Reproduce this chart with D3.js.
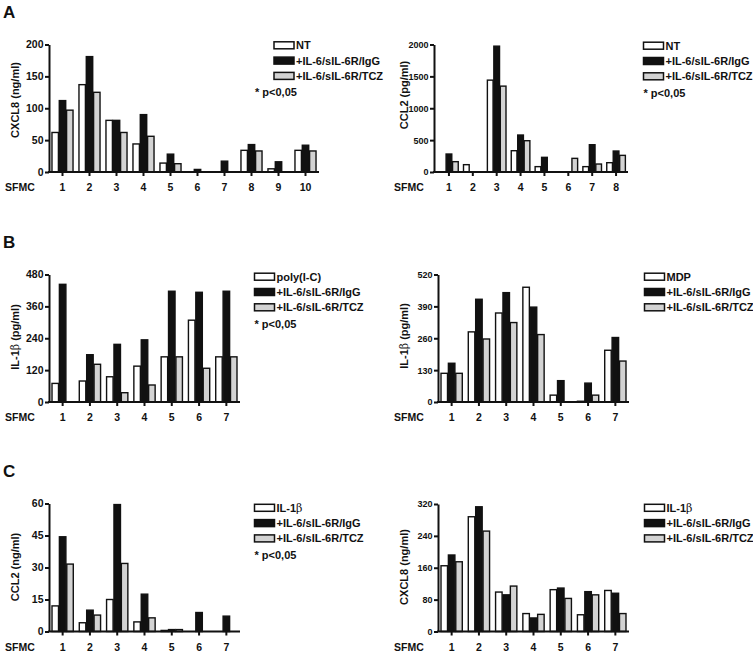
<!DOCTYPE html>
<html>
<head>
<meta charset="utf-8">
<script src="https://cdn.jsdelivr.net/npm/d3@7"></script>
<style>
html,body{margin:0;padding:0;background:#fff;}
svg text{font-family:Arial,Helvetica,"Liberation Sans",sans-serif;font-weight:bold;fill:#111;}
</style>
</head>
<body>
<svg id="chart" width="753" height="653"></svg>
<script>
// ---- data ----
const seriesA = ["NT", "+IL-6/sIL-6R/IgG", "+IL-6/sIL-6R/TCZ"];
const seriesBL = ["poly(I-C)", "+IL-6/sIL-6R/IgG", "+IL-6/sIL-6R/TCZ"];
const seriesBR = ["MDP", "+IL-6/sIL-6R/IgG", "+IL-6/sIL-6R/TCZ"];
const seriesC = ["IL-1β", "+IL-6/sIL-6R/IgG", "+IL-6/sIL-6R/TCZ"];

const groups10 = ["1","2","3","4","5","6","7","8","9","10"];
const groups8 = ["1","2","3","4","5","6","7","8"];
const groups7 = ["1","2","3","4","5","6","7"];

const aLeftNT  = [62, 137, 81, 44, 14, 0, 0, 34, 5, 34];
const aLeftIgG = [112, 181, 81, 90, 28, 4, 17, 43, 16, 42];
const aLeftTCZ = [97, 125, 62, 56, 13, 0, 0, 33, 0, 33];
const aLeftTicks = [0, 50, 100, 150, 200];

const aRightNT  = [0, 115, 1441, 334, 84, 0, 84, 146];
const aRightIgG = [282, 0, 1974, 580, 230, 0, 428, 329];
const aRightTCZ = [162, 0, 1347, 491, 0, 214, 125, 261];
const aRightTicks = [0, 500, 1000, 1500, 2000];

const bLeftPoly = [70, 79, 95, 135, 170, 308, 170];
const bLeftIgG  = [443, 178, 217, 234, 417, 413, 417];
const bLeftTCZ  = [0, 142, 35, 64, 170, 127, 170];
const bLeftTicks = [0, 120, 240, 360, 480];

const bRightMDP = [117, 286, 363, 468, 28, 3, 211];
const bRightIgG = [158, 419, 446, 387, 87, 77, 263];
const bRightTCZ = [117, 257, 324, 275, 0, 28, 167];
const bRightTicks = [0, 130, 260, 390, 520];

const cLeftIL1  = [12, 4.1, 15, 4.5, 0.5, 0, 0];
const cLeftIgG  = [44.4, 10, 59.5, 17.5, 0.9, 8.9, 7.2];
const cLeftTCZ  = [31.6, 7.7, 31.9, 6.4, 0.9, 0, 0];
const cLeftTicks = [0, 15, 30, 45, 60];

const cRightIL1 = [165, 288, 99, 45, 105, 42, 103];
const cRightIgG = [192, 313, 92, 34, 109, 100, 96];
const cRightTCZ = [175, 252, 114, 43, 83, 92, 45];
const cRightTicks = [0, 80, 160, 240, 320];

const pNote = "* p<0,05";
const xTitle = "SFMC";

// ---- layout ----
const FONT = "Arial,Helvetica,'Liberation Sans',sans-serif";
const fills = ["#ffffff", "#111111", "#d3d3d3"];
const svg = d3.select("#chart");

const panels = [
  {groups: groups10, values: [aLeftNT, aLeftIgG, aLeftTCZ], ticks: aLeftTicks, series: seriesA, tickFs: 10.5,
   ylab: ["CXCL8 (ng/ml)"], axisX: 49, xr: [49, 319], yt: 44.5, yb: 172, labX: 19, labY: 100,
   legX: 274, legY: 45.3, pX: 255, showP: true, sfmcX: 5},
  {groups: groups8, values: [aRightNT, aRightIgG, aRightTCZ], ticks: aRightTicks, series: seriesA, tickFs: 9,
   ylab: ["CCL2 (pg/ml)"], axisX: 434, xr: [437, 628], yt: 44.5, yb: 172, labX: 408, labY: 95,
   legX: 643.5, legY: 45.7, pX: 643.5, showP: true, sfmcX: 394},
  {groups: groups7, values: [bLeftPoly, bLeftIgG, bLeftTCZ], ticks: bLeftTicks, series: seriesBL, tickFs: 10.5,
   ylab: ["IL-1", "β", " (pg/ml)"], axisX: 49, xr: [49, 240], yt: 274.5, yb: 402, labX: 19, labY: 337,
   legX: 254.5, legY: 276.7, pX: 254.5, showP: true, sfmcX: 5},
  {groups: groups7, values: [bRightMDP, bRightIgG, bRightTCZ], ticks: bRightTicks, series: seriesBR, tickFs: 9,
   ylab: ["IL-1", "β", " (pg/ml)"], axisX: 438, xr: [438, 629], yt: 274.5, yb: 402, labX: 408, labY: 336,
   legX: 644.5, legY: 276.7, pX: 644.5, showP: false, sfmcX: 394},
  {groups: groups7, values: [cLeftIL1, cLeftIgG, cLeftTCZ], ticks: cLeftTicks, series: seriesC, tickFs: 10.5,
   ylab: ["CCL2 (ng/ml)"], axisX: 49, xr: [49, 240], yt: 503.5, yb: 631.5, labX: 19, labY: 567,
   legX: 254.5, legY: 507.8, pX: 254.5, showP: true, sfmcX: 5},
  {groups: groups7, values: [cRightIL1, cRightIgG, cRightTCZ], ticks: cRightTicks, series: seriesC, tickFs: 9,
   ylab: ["CXCL8 (ng/ml)"], axisX: 438, xr: [438, 629], yt: 504, yb: 631.5, labX: 408, labY: 567,
   legX: 644.5, legY: 507.8, pX: 644.5, showP: false, sfmcX: 394}
];

function addLabelText(sel, parts) {
  parts.forEach(p => {
    const t = sel.append("tspan").text(p);
    if (p === "β") t.style("font-family", "'DejaVu Serif','Liberation Serif',serif").style("font-weight", "normal");
  });
}

panels.forEach(P => {
  const g = svg.append("g");
  const x = d3.scaleBand().domain(P.groups).range(P.xr).paddingInner(0.22).paddingOuter(0.11);
  const xs = d3.scaleBand().domain([0, 1, 2]).range([0, x.bandwidth()]).paddingInner(0.12);
  const ymax = P.ticks[P.ticks.length - 1];
  const y = d3.scaleLinear().domain([0, ymax]).range([P.yb, P.yt]);

  // bars
  P.values.forEach((vals, si) => {
    g.append("g").selectAll("rect").data(vals).join("rect")
      .attr("x", (d, i) => x(P.groups[i]) + xs(si))
      .attr("width", xs.bandwidth())
      .attr("y", d => y(d))
      .attr("height", d => P.yb - y(d))
      .attr("fill", fills[si])
      .attr("stroke", "#111")
      .attr("stroke-width", 1.4);
  });

  // y axis
  const ya = g.append("g").attr("transform", `translate(${P.axisX},0)`)
    .call(d3.axisLeft(y).tickValues(P.ticks).tickFormat(d3.format("d")).tickSize(4).tickSizeOuter(0).tickPadding(1.5));
  ya.select(".domain").attr("stroke", "#111").attr("stroke-width", 2);
  ya.selectAll(".tick line").attr("stroke", "#111").attr("stroke-width", 2);
  ya.selectAll(".tick text").style("font-size", P.tickFs + "px").style("font-family", FONT).style("font-weight", "bold").attr("fill", "#111");

  // x axis
  g.append("line").attr("x1", P.axisX - 1).attr("x2", P.xr[1]).attr("y1", P.yb).attr("y2", P.yb)
    .attr("stroke", "#111").attr("stroke-width", 2);
  const xa = g.append("g").attr("transform", `translate(0,${P.yb})`)
    .call(d3.axisBottom(x).tickSize(4).tickSizeOuter(0).tickPadding(8));
  xa.select(".domain").remove();
  xa.selectAll(".tick line").attr("stroke", "#111").attr("stroke-width", 2);
  xa.selectAll(".tick text").style("font-size", "10.5px").style("font-family", FONT).style("font-weight", "bold").attr("fill", "#111");

  g.append("text").attr("x", P.sfmcX).attr("y", P.yb + 19).style("font-size", "10.5px").text(xTitle);

  // y label
  const yl = g.append("text")
    .attr("transform", `translate(${P.labX},${P.labY}) rotate(-90)`)
    .attr("text-anchor", "middle").style("font-size", "11px");
  addLabelText(yl, P.ylab);

  // legend
  P.series.forEach((s, i) => {
    const ry = P.legY + i * 15.3;
    g.append("rect").attr("x", P.legX).attr("y", ry - 3.5).attr("width", 20).attr("height", 7)
      .attr("fill", fills[i]).attr("stroke", "#111").attr("stroke-width", 1.5);
    const t = g.append("text").attr("x", P.legX + 22).attr("y", ry + 4).style("font-size", "11px");
    if (s === "IL-1β") addLabelText(t, ["IL-1", "β"]); else t.text(s);
  });
  if (P.showP) {
    g.append("text").attr("x", P.pX).attr("y", P.legY + 47 + 4).style("font-size", "11px").text(pNote);
  }
});

// panel letters
[["A", 18], ["B", 248], ["C", 477]].forEach(([L, yy]) => {
  svg.append("text").attr("x", 3).attr("y", yy).style("font-size", "17px").text(L);
});
</script>
</body>
</html>
